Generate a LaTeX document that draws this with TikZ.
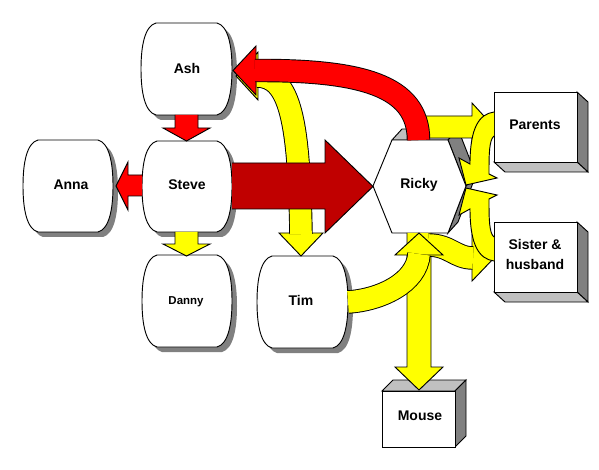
\documentclass[tikz,border=0pt]{standalone}
\usepackage{fontspec}
\setmainfont{Liberation Sans}
\definecolor{ayellow}{HTML}{FFFF00}
\definecolor{ared}{HTML}{FF0000}
\definecolor{adark}{HTML}{C00000}
\definecolor{sgray}{HTML}{808080}
\definecolor{lgray}{HTML}{C0C0C0}
\newcommand{\barrelshape}[5]{\path[#5] (#1+15,#2) -- (#3-15,#2) .. controls (#3-4,#2+3) and (#3,#2+22) .. (#3,{(#2+#4)/2}) .. controls (#3,#4-22) and (#3-4,#4-3) .. (#3-15,#4) -- (#1+15,#4) .. controls (#1+4,#4-3) and (#1,#4-22) .. (#1,{(#2+#4)/2}) .. controls (#1,#2+22) and (#1+4,#2+3) .. cycle;}
\newcommand{\barrel}[4]{\barrelshape{#1}{#2}{#3}{#4}{fill=sgray,shift={(5,5)}}\barrelshape{#1}{#2}{#3}{#4}{fill=white,outl}}
\newcommand{\boxdown}[4]{%
 \filldraw[fill=sgray,outl] (#3,#2) -- (#3+11,#2+10) -- (#3+11,#4+10) -- (#3,#4) -- cycle;
 \filldraw[fill=lgray,outl] (#1,#4) -- (#3,#4) -- (#3+11,#4+10) -- (#1+11,#4+10) -- cycle;
 \filldraw[fill=white,outl] (#1,#2) rectangle (#3,#4);}
\begin{document}
\begin{tikzpicture}[x=0.75pt,y=-0.75pt,
  outl/.style={draw=black,line width=0.7pt,line join=miter},
  yb/.style={draw=black,line width=0.7pt,double=ayellow,double distance=16.2pt},
  rb/.style={draw=black,line width=0.7pt,double=ared,double distance=16.2pt},
  lbl/.style={font=\bfseries\fontsize{10.5}{15}\selectfont,align=center,inner sep=0pt},
  lbls/.style={font=\bfseries\fontsize{8.6}{11}\selectfont,align=center,inner sep=0pt}]
\useasboundingbox (0,0) rectangle (599,470);
\fill[white] (0,0) rectangle (599,470);

% rounded nodes
\barrel{141}{23}{232}{115}   % Ash
\barrel{142}{141}{232}{232}  % Steve
\barrel{23}{140}{113}{232}   % Anna
\barrel{142}{255}{232}{347}  % Danny
\barrel{257}{256}{348}{348}  % Tim

% 3D boxes
\boxdown{494}{92}{577}{162}   % Parents
\boxdown{494}{222}{577}{292}  % Sister
\filldraw[fill=lgray,outl] (382,391) -- (393,380) -- (466,380) -- (455,391) -- cycle;
\filldraw[fill=sgray,outl] (455,391) -- (466,380) -- (466,436) -- (455,447) -- cycle;
\filldraw[fill=white,outl] (382,391) rectangle (455,447);

% Ricky hexagon
\filldraw[fill=lgray,outl] (392,140) -- (402,129) -- (458,129) -- (448,140) -- cycle;
\filldraw[fill=sgray,outl] (448,140) -- (458,129) -- (476,175) -- (466,186) -- cycle;
\filldraw[fill=sgray,outl] (466,186) -- (476,175) -- (458,222) -- (448,233) -- cycle;
\filldraw[fill=white,outl] (373,186) -- (392,140) -- (448,140) -- (466,186) -- (448,233) -- (392,233) -- cycle;

% yellow Ash <-> Tim
\filldraw[fill=ayellow,outl] (258,52) -- (236,76) -- (258,100) -- cycle;
\filldraw[fill=ayellow,outl] (279,233) -- (301,256) -- (323,233) -- cycle;
\draw[yb] (257,76) .. controls (290,76) and (299,120) .. (301,234);

% Steve -> Danny
\filldraw[fill=ayellow,outl] (175,232) -- (175,244) -- (163,244) -- (186.5,256) -- (210,244) -- (198,244) -- (198,232);

% Ricky -> Mouse
\filldraw[fill=ayellow,outl] (407,233) -- (407,367) -- (395,367) -- (419,390) -- (443,367) -- (431,367) -- (431,233);

% Ricky -> Parents
\filldraw[fill=ayellow,outl] (426,116) -- (472,116) -- (472,103) -- (494,127) -- (472,151) -- (472,138) -- (426,138);

% Ricky -> Sister
\filldraw[fill=ayellow,outl] (472,235) -- (494,258) -- (472,281) -- cycle;
\draw[yb] (428,245) .. controls (450,245) and (455,258) .. (473,258);

% Parents -> Ricky
\filldraw[fill=ayellow,outl] (494,112) .. controls (479,114) and (470,128) .. (470,164) -- (459,158) -- (466,185) -- (497,178) -- (489,174) .. controls (489,155) and (489,140) .. (494,136);

% Sister -> Ricky
\filldraw[fill=ayellow,outl] (494,261) .. controls (479,259) and (470,245) .. (470,209) -- (459,215) -- (466,188) -- (497,195) -- (489,199) .. controls (489,218) and (489,233) .. (494,237);

% Tim -> Ricky
\filldraw[fill=ayellow,outl] (395,255) -- (419,233) -- (443,255) -- cycle;
\draw[yb] (348,302) .. controls (380,300) and (417,283) .. (419,254);

% red arrows
\filldraw[fill=ared,outl] (175,115) -- (175,128) -- (163,128) -- (186.5,141) -- (210,128) -- (198,128) -- (198,115);
\filldraw[fill=ared,outl] (142,175) -- (128,175) -- (128,162) -- (116,186) -- (128,210) -- (128,196) -- (142,196);
\filldraw[fill=ared,outl] (256,46) -- (233,70.5) -- (256,95) -- cycle;
\draw[rb] (418.5,140) .. controls (418.5,85) and (360,70) .. (255,70.5);

% Steve -> Ricky
\filldraw[fill=adark,outl] (232,163) -- (325,163) -- (325,140) -- (373,186.5) -- (325,233) -- (325,209) -- (232,209);

% labels
\node[lbl] (ash) at (187,68) {Ash};
\node[lbl] (steve) at (187,185) {Steve};
\node[lbl] (anna) at (71,185) {Anna};
\node[lbls] (danny) at (186,302) {Danny};
\node[lbl] (tim) at (301,300) {Tim};
\node[lbl] (ricky) at (419,185) {Ricky};
\node[lbl] (parents) at (535,125) {Parents};
\node[lbl] (sister) at (535,254) {Sister \&\\husband};
\node[lbl] (mouse) at (420,416) {Mouse};
\end{tikzpicture}
\end{document}
